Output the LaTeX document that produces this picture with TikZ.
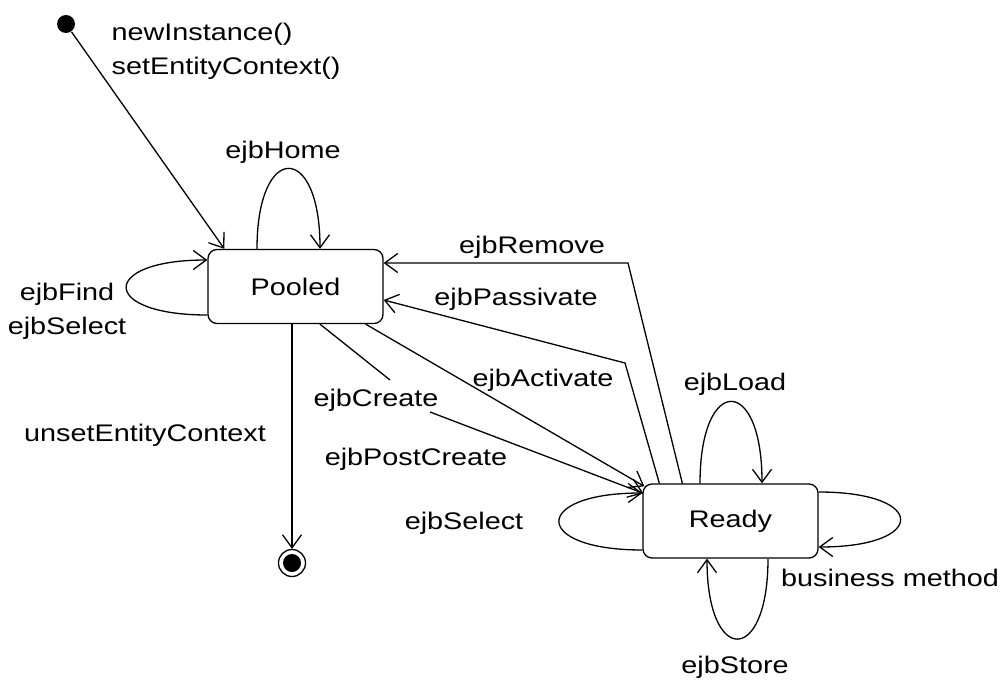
\documentclass[tikz,border=0pt]{standalone}
\usepackage{fontspec}
\setmainfont{Liberation Sans}[FakeStretch=1.2]
\usetikzlibrary{arrows.meta,calc}
\begin{document}
\begin{tikzpicture}[x=1pt,y=-1pt, line width=1.3pt,
  every node/.style={font=\fontsize{24}{34}\selectfont},
  state/.style={draw, rounded corners=9pt, minimum width=175pt, minimum height=74pt, inner sep=0pt},
  lbl/.style={inner sep=0pt, text height=17pt, text depth=5pt},
  tr/.style={-{Straight Barb[length=13pt,width=19pt]}}]
\useasboundingbox (0,0) rectangle (1006,682);

% states
\node[state] (pooled) at (295.5,286.5) {Pooled};
\node[state] (ready) at (730.5,521) {Ready};
\node[circle, fill=black, minimum size=18pt, inner sep=0pt] (start) at (66,24) {};
\node[circle, draw, minimum size=27pt, inner sep=0pt] (final) at (292,563) {};
\node[circle, fill=black, minimum size=18pt, inner sep=0pt] (finalin) at (292,563) {};

% helper coordinates
\coordinate (rm) at (628,263);
\coordinate (pa) at (625,363);
\coordinate (c1) at (390,380);
\coordinate (c2) at (430,412);

% transitions
\draw[tr] (start) -- ([xshift=17pt]pooled.north west);
\draw[tr] ([xshift=-38.5pt]pooled.north) .. controls +(0,-107) and +(0,-107) .. ([xshift=24.5pt]pooled.north);
\draw[tr] ([yshift=-28.5pt]pooled.west) .. controls +(-108,0) and +(-108,0) .. ([yshift=26.5pt]pooled.west);
\draw[tr] ([xshift=40pt]ready.north west) -- (rm) -- ([yshift=23.5pt]pooled.east);
\draw[tr] ([xshift=17pt]ready.north west) -- (pa) -- ([yshift=-13.5pt]pooled.east);
\draw[tr] ([xshift=-18pt]pooled.south east) -- ([xshift=2pt,yshift=-3pt]ready.north west);
\draw ([xshift=24.5pt]pooled.south) -- (c1);
\draw[tr] (c2) -- ([xshift=1pt,yshift=-10pt]ready.north west);
\draw[tr] ([xshift=-3.5pt]pooled.south) -- (final);

\draw[tr] ([xshift=-30.5pt]ready.north) .. controls +(0,-109) and +(0,-109) .. ([xshift=31.5pt]ready.north);
\draw[tr] ([yshift=29pt]ready.east) .. controls +(109,0) and +(109,0) .. ([yshift=-26pt]ready.east);
\draw[tr] ([xshift=37.5pt]ready.south) .. controls +(0,107) and +(0,107) .. ([xshift=-23.5pt]ready.south);
\draw[tr] ([yshift=-29pt]ready.west) .. controls +(-111,0) and +(-111,0) .. ([yshift=28pt]ready.west);

% labels
\node[inner sep=0pt, anchor=north west, align=left] (lnew) at (111,22) {newInstance()\\setEntityContext()};
\node[lbl] (lhome) at (283,152) {ejbHome};
\node[inner sep=0pt, align=center] (lfind) at (67,311) {ejbFind\\ejbSelect};
\node[lbl] (lremove) at (532,247) {ejbRemove};
\node[lbl] (lpass) at (516,299) {ejbPassivate};
\node[lbl] (lact) at (543,380) {ejbActivate};
\node[lbl] (lcreate) at (376,400) {ejbCreate};
\node[lbl] (lpost) at (416,459) {ejbPostCreate};
\node[lbl] (lunset) at (145,435) {unsetEntityContext};
\node[lbl] (lload) at (735,384) {ejbLoad};
\node[lbl] (lsel) at (464,523) {ejbSelect};
\node[lbl] (lbus) at (890,580) {business method};
\node[lbl] (lstore) at (735,667) {ejbStore};
\end{tikzpicture}
\end{document}
